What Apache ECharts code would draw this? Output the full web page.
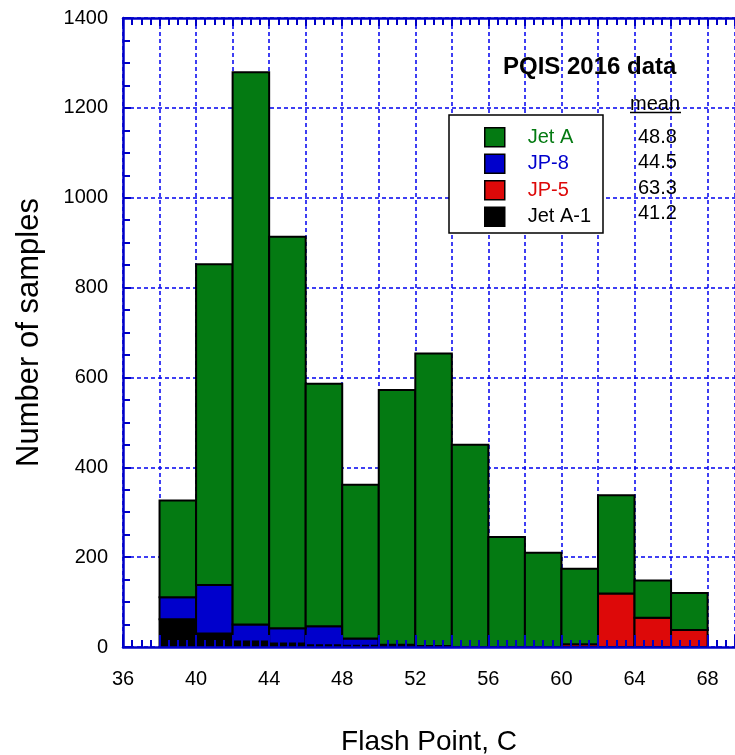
<!DOCTYPE html>
<html>
<head>
<meta charset="utf-8">
<script src="https://cdn.jsdelivr.net/npm/echarts@6/dist/echarts.min.js"></script>
<style>
  html, body { margin: 0; padding: 0; background: #fff; }
  #chart { width: 735px; height: 755px; }
</style>
</head>
<body>
<div id="chart"></div>
<script>
// Lower edge of each 2 °C flash-point bin
const binStarts = [38, 40, 42, 44, 46, 48, 50, 52, 54, 56, 58, 60, 62, 64, 66];
const binWidth = 2;

// Sample counts per bin for each fuel grade, stacked bottom to top
const jetA1 = [62, 30, 12, 8, 4, 3, 0, 0, 0, 0, 0, 0, 0, 0, 0];
const jp5   = [0, 0, 0, 0, 0, 0, 0, 0, 0, 0, 0, 6, 119, 65, 38];
const jp8   = [49, 108, 38, 34, 42, 16, 5, 2, 0, 0, 0, 0, 0, 0, 0];
const jetA  = [215, 714, 1229, 871, 540, 342, 567, 651, 450, 245, 210, 168, 219, 83, 82];

const stackOrder = ['Jet A-1', 'JP-5', 'JP-8', 'Jet A'];
const stackValues = [jetA1, jp5, jp8, jetA];
const gradeColors = { 'Jet A': '#047a12', 'JP-8': '#0000cc', 'JP-5': '#dd0909', 'Jet A-1': '#000000' };

const legendOrder = ['Jet A', 'JP-8', 'JP-5', 'Jet A-1'];
const meanValues = ['48.8', '44.5', '63.3', '41.2'];

const FONT = "'Liberation Sans', Arial, sans-serif";
const AXIS_BLUE = '#0000c8';
const GRID_BLUE = '#0000f0';

// Build [x0, x1, base, top] rectangles for each grade on top of the grades below it
const running = binStarts.map(() => 0);
const series = stackOrder.map((name, s) => {
  const vals = stackValues[s];
  const data = [];
  binStarts.forEach((x0, i) => {
    const base = running[i];
    const top = base + vals[i];
    running[i] = top;
    if (vals[i] > 0) data.push([x0, x0 + binWidth, base, top]);
  });
  const color = gradeColors[name];
  return {
    name: name,
    type: 'custom',
    xAxisIndex: 0,
    yAxisIndex: 0,
    z: 2,
    itemStyle: { color: color, borderColor: '#000', borderWidth: 1.5 },
    encode: { x: [0, 1], y: [2, 3] },
    data: data,
    renderItem: function (params, api) {
      const p0 = api.coord([api.value(0), api.value(2)]);
      const p1 = api.coord([api.value(1), api.value(3)]);
      return {
        type: 'rect',
        shape: { x: p0[0], y: p1[1], width: p1[0] - p0[0], height: p0[1] - p1[1] },
        style: { fill: color, stroke: '#000', lineWidth: 2 }
      };
    }
  };
});

// Both grids share one rectangle: the first holds labels, grid lines and bars,
// the second draws the blue frame and inward ticks over the bars.
const gridRect = { left: 123, right: 0, top: 18, bottom: 108, containLabel: false, outerBoundsMode: 'none' };

const xBase = { type: 'value', min: 36, max: 69.5, interval: 2 };
const yBase = { type: 'value', min: 0, max: 1400, interval: 200 };

const chart = echarts.init(document.getElementById('chart'), null, { renderer: 'canvas' });
chart.setOption({
  animation: false,
  backgroundColor: '#fff',
  grid: [Object.assign({}, gridRect), Object.assign({}, gridRect)],
  xAxis: [
    Object.assign({}, xBase, {
      gridIndex: 0, position: 'bottom',
      name: 'Flash Point, C', nameLocation: 'middle', nameGap: 81,
      nameTextStyle: { fontSize: 28, fontFamily: FONT, color: '#000' },
      axisLine: { show: false }, axisTick: { show: false },
      axisLabel: {
        margin: 22, fontSize: 20, fontFamily: FONT, color: '#000',
        formatter: v => ((v - 36) % 4 === 0 ? String(v) : '')
      },
      splitLine: { show: true, lineStyle: { color: GRID_BLUE, width: 1.5, type: [4, 3] } }
    }),
    Object.assign({}, xBase, {
      gridIndex: 1, position: 'bottom', z: 10,
      axisLine: { show: true, onZero: false, lineStyle: { color: AXIS_BLUE, width: 2.5 } },
      axisTick: { show: true, inside: true, length: 12, lineStyle: { color: AXIS_BLUE, width: 2 } },
      minorTick: { show: true, splitNumber: 4, length: 7, lineStyle: { color: AXIS_BLUE, width: 2 } },
      axisLabel: { show: false }, splitLine: { show: false }
    }),
    Object.assign({}, xBase, {
      gridIndex: 1, position: 'top', z: 10,
      axisLine: { show: true, onZero: false, lineStyle: { color: AXIS_BLUE, width: 2.5 } },
      axisTick: { show: true, inside: true, length: 8, lineStyle: { color: AXIS_BLUE, width: 2 } },
      minorTick: { show: true, splitNumber: 4, length: 7, lineStyle: { color: AXIS_BLUE, width: 2 } },
      axisLabel: { show: false }, splitLine: { show: false }
    })
  ],
  yAxis: [
    Object.assign({}, yBase, {
      gridIndex: 0, position: 'left',
      name: 'Number of samples', nameLocation: 'middle', nameGap: 78, nameRotate: 90,
      nameTextStyle: { fontSize: 31, fontFamily: FONT, color: '#000' },
      axisLine: { show: false }, axisTick: { show: false },
      axisLabel: { margin: 15, fontSize: 20, fontFamily: FONT, color: '#000', formatter: v => String(v) },
      splitLine: { show: true, lineStyle: { color: GRID_BLUE, width: 1.5, type: [4, 3] } }
    }),
    Object.assign({}, yBase, {
      gridIndex: 1, position: 'left', z: 10,
      axisLine: { show: true, onZero: false, lineStyle: { color: AXIS_BLUE, width: 2.5 } },
      axisTick: { show: true, inside: true, length: 8, lineStyle: { color: AXIS_BLUE, width: 2 } },
      minorTick: { show: true, splitNumber: 4, length: 7, lineStyle: { color: AXIS_BLUE, width: 2 } },
      axisLabel: { show: false }, splitLine: { show: false }
    })
  ],
  legend: {
    orient: 'vertical', left: 484, top: 127, padding: 0,
    itemWidth: 20, itemHeight: 19, itemGap: 6, icon: 'rect',
    selectedMode: false, z: 8,
    textStyle: { fontSize: 20, fontFamily: FONT, padding: [0, 0, 0, 18] },
    data: legendOrder.map(n => ({
      name: n,
      itemStyle: { color: gradeColors[n], borderColor: '#000', borderWidth: 1.5 },
      textStyle: { color: gradeColors[n] }
    }))
  },
  graphic: [
    {
      type: 'rect', z: 6,
      shape: { x: 449, y: 115, width: 154, height: 118 },
      style: { fill: '#fff', stroke: '#000', lineWidth: 1.5 }
    },
    {
      type: 'text', z: 9,
      style: { x: 503, y: 67, text: 'PQIS 2016 data', fontSize: 24, fontWeight: 'bold', fontFamily: FONT, fill: '#000', align: 'left', verticalAlign: 'middle' }
    },
    {
      type: 'text', z: 9,
      style: { x: 630, y: 104, text: 'mean', fontSize: 20, fontFamily: FONT, fill: '#000', align: 'left', verticalAlign: 'middle' }
    },
    {
      type: 'line', z: 9,
      shape: { x1: 630, y1: 112.5, x2: 681, y2: 112.5 },
      style: { stroke: '#000', lineWidth: 1.5 }
    }
  ].concat(meanValues.map((m, i) => ({
    type: 'text', z: 9,
    style: { x: 638, y: 137.5 + i * 25.3, text: m, fontSize: 20, fontFamily: FONT, fill: '#000', align: 'left', verticalAlign: 'middle' }
  }))),
  series: series
});
</script>
</body>
</html>
